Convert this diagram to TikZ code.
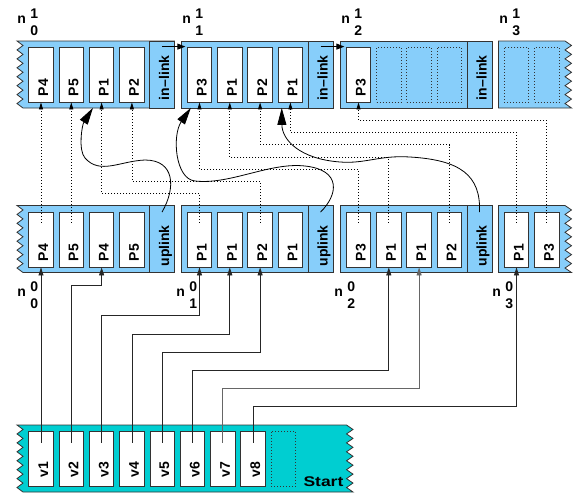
\documentclass[tikz,border=0pt]{standalone}
\usepackage{fontspec}
\setmainfont{Liberation Sans}
\usetikzlibrary{arrows.meta}
\definecolor{skyblue}{RGB}{135,206,250}
\definecolor{turq}{RGB}{0,206,209}
\newcommand{\nidx}[2]{n\hspace{4.5pt}\rlap{\raisebox{5pt}{#1}}\raisebox{-12.5pt}{#2}}

\begin{document}
\begin{tikzpicture}[x=1pt, y=-1pt, line width=0.8pt,
  every node/.style={font=\fontsize{14}{16}\selectfont\bfseries},
  blk/.style={draw=black!80, fill=skyblue},
  cell/.style={draw=black!80, fill=white, minimum width=24.5pt, minimum height=55pt, inner sep=0pt},
  ghost/.style={draw=black!80, dash pattern=on 1pt off 2pt, minimum width=24.5pt, minimum height=55pt, inner sep=0pt},
  panel/.style={draw=black!80, fill=skyblue, minimum width=25pt, minimum height=67pt, inner sep=0pt},
  ctext/.style={xshift=7pt, yshift=#1, rotate=90, anchor=base west, inner sep=0pt},
  ctext/.default=6pt,
  nlab/.style={anchor=base west, inner sep=0pt},
  feed/.style={draw=black!85, -{Triangle[length=8pt,width=5pt]}},
  mapto/.style={dash pattern=on 1pt off 2pt, -{Triangle[length=7pt,width=4pt]}},
  link/.style={shorten >=1.5pt, -{Triangle[length=8pt,width=6pt]}},
  climb/.style={-{Triangle[length=17pt,width=9pt]}}]

\useasboundingbox (0,0) rectangle (579,498);

% Ebene 1: Bloecke
\filldraw[blk] (23,108) -- (174.5,108) -- (174.5,41) -- (17,41)
  \foreach \i in {1,...,15} { -- ({17+6*mod(\i,2)},{41+\i*67/15}) } -- cycle;
\filldraw[blk] (181.5,41) rectangle (333,108);
\filldraw[blk] (340.5,41) rectangle (492,108);
\filldraw[blk] (498.5,108) -- (498.5,41) -- (565,41)
  \foreach \i in {1,...,15} { -- ({565+6.5*mod(\i,2)},{41+\i*67/15}) } -- cycle;

% Ebene 0: Bloecke
\filldraw[blk] (23,272.5) -- (174.5,272.5) -- (174.5,205.5) -- (17,205.5)
  \foreach \i in {1,...,15} { -- ({17+6*mod(\i,2)},{205.5+\i*67/15}) } -- cycle;
\filldraw[blk] (181.5,205.5) rectangle (333,272.5);
\filldraw[blk] (340.5,205.5) rectangle (492,272.5);
\filldraw[blk] (498.5,272.5) -- (498.5,205.5) -- (565,205.5)
  \foreach \i in {1,...,15} { -- ({565+6.5*mod(\i,2)},{205.5+\i*67/15}) } -- cycle;

% Startblock unten
\filldraw[blk, fill=turq] (17,425) -- (346.5,425)
  \foreach \i in {1,...,15} { -- ({346.5+6.5*mod(\i,2)},{425+\i*67/15}) } -- (23,492)
  \foreach \i in {1,...,15} { -- ({23-6*mod(\i,2)},{492-\i*67/15}) } -- cycle;

% Zellen Ebene 1
\node[cell, label={[ctext]south:P4}] (t00) at (41,74.5) {};
\node[cell, label={[ctext]south:P5}] (t01) at (71.3,74.5) {};
\node[cell, label={[ctext]south:P1}] (t02) at (101.6,74.5) {};
\node[cell, label={[ctext]south:P2}] (t03) at (131.9,74.5) {};
\node[panel, label={[ctext=8pt]south:in--link}] (in0) at (162,74.5) {};
\node[cell, label={[ctext]south:P3}] (t10) at (199.5,74.5) {};
\node[cell, label={[ctext]south:P1}] (t11) at (229.8,74.5) {};
\node[cell, label={[ctext]south:P2}] (t12) at (260.1,74.5) {};
\node[cell, label={[ctext]south:P1}] (t13) at (290.4,74.5) {};
\node[panel, label={[ctext=8pt]south:in--link}] (in1) at (320.5,74.5) {};
\node[cell, label={[ctext]south:P3}] (t20) at (358.5,74.5) {};
\node[ghost] (t21) at (388.8,74.5) {};
\node[ghost] (t22) at (419.1,74.5) {};
\node[ghost] (t23) at (449.4,74.5) {};
\node[panel, label={[ctext=8pt]south:in--link}] (in2) at (479.5,74.5) {};
\node[ghost] (t30) at (516.5,74.5) {};
\node[ghost] (t31) at (546.8,74.5) {};

% Zellen Ebene 0
\node[cell, label={[ctext]south:P4}] (m00) at (41,239.5) {};
\node[cell, label={[ctext]south:P5}] (m01) at (71.3,239.5) {};
\node[cell, label={[ctext]south:P4}] (m02) at (101.6,239.5) {};
\node[cell, label={[ctext]south:P5}] (m03) at (131.9,239.5) {};
\node[panel, label={[ctext=6pt]south:uplink}] (ul0) at (162,239) {};
\node[cell, label={[ctext]south:P1}] (m10) at (199.5,239.5) {};
\node[cell, label={[ctext]south:P1}] (m11) at (229.8,239.5) {};
\node[cell, label={[ctext]south:P2}] (m12) at (260.1,239.5) {};
\node[cell, label={[ctext]south:P1}] (m13) at (290.4,239.5) {};
\node[panel, label={[ctext=6pt]south:uplink}] (ul1) at (320.5,239) {};
\node[cell, label={[ctext]south:P3}] (m20) at (358.5,239.5) {};
\node[cell, label={[ctext]south:P1}] (m21) at (388.8,239.5) {};
\node[cell, label={[ctext]south:P1}] (m22) at (419.1,239.5) {};
\node[cell, label={[ctext]south:P2}] (m23) at (449.4,239.5) {};
\node[panel, label={[ctext=6pt]south:uplink}] (ul2) at (479.5,239) {};
\node[cell, label={[ctext]south:P1}] (m30) at (516.5,239.5) {};
\node[cell, label={[ctext]south:P3}] (m31) at (546.8,239.5) {};

% Startzellen
\node[cell, label={[ctext=9pt]south:v1}] (v1) at (41,458.5) {};
\node[cell, label={[ctext=9pt]south:v2}] (v2) at (71.3,458.5) {};
\node[cell, label={[ctext=9pt]south:v3}] (v3) at (101.6,458.5) {};
\node[cell, label={[ctext=9pt]south:v4}] (v4) at (131.9,458.5) {};
\node[cell, label={[ctext=9pt]south:v5}] (v5) at (162.2,458.5) {};
\node[cell, label={[ctext=9pt]south:v6}] (v6) at (192.5,458.5) {};
\node[cell, label={[ctext=9pt]south:v7}] (v7) at (222.8,458.5) {};
\node[cell, label={[ctext=9pt]south:v8}] (v8) at (253.1,458.5) {};
\node[ghost] (v9) at (283.4,458.5) {};
\node[nlab, xscale=1.25] (start) at (303,486.5) {Start};

% Beschriftungen n
\node[nlab] (k10) at (17,23.3) {\nidx{1}{0}};
\node[nlab] (k11) at (182,23.3) {\nidx{1}{1}};
\node[nlab] (k12) at (341,23.3) {\nidx{1}{2}};
\node[nlab] (k13) at (499,23.3) {\nidx{1}{3}};
\node[nlab] (k00) at (17,296) {\nidx{0}{0}};
\node[nlab] (k01) at (176,296) {\nidx{0}{1}};
\node[nlab] (k02) at (334,296) {\nidx{0}{2}};
\node[nlab] (k03) at (492,296) {\nidx{0}{3}};

% Startknoten -> Ebene 0
\draw[feed] ([yshift=-12pt]v1.north) -- (m00.south);
\draw[feed] ([yshift=-12pt]v2.north) |- (m02.south |- 0,285) -- (m02.south);
\draw[feed] ([yshift=-12pt]v3.north) |- (m10.south |- 0,315.5) -- (m10.south);
\draw[feed] ([yshift=-12pt]v4.north) |- (m11.south |- 0,334) -- (m11.south);
\draw[feed] ([yshift=-12pt]v5.north) |- (m12.south |- 0,352) -- (m12.south);
\draw[feed] ([yshift=-12pt]v6.north) |- (m21.south |- 0,370) -- (m21.south);
\draw[feed, draw=black!60] ([yshift=-12pt]v7.north) |- (m22.south |- 0,388) -- (m22.south);
\draw[feed] ([yshift=-12pt]v8.north) |- (m30.south |- 0,406.5) -- (m30.south);

% Ebene 0 -> Ebene 1 (gepunktet)
\draw[mapto] ([yshift=-11pt]m00.north) -- (t00.south);
\draw[mapto] ([yshift=-11pt]m01.north) -- (t01.south);
\draw[mapto] ([yshift=-11pt]m10.north) |- (t02.south |- 0,193) -- (t02.south);
\draw[mapto] ([yshift=-11pt]m12.north) |- (t03.south |- 0,181) -- (t03.south);
\draw[mapto] ([yshift=-11pt]m20.north) |- (t10.south |- 0,169) -- (t10.south);
\draw[mapto] ([yshift=-11pt]m21.north) |- (t11.south |- 0,157) -- (t11.south);
\draw[mapto] ([yshift=-11pt]m23.north) |- (t12.south |- 0,144.5) -- (t12.south);
\draw[mapto] ([yshift=-11pt]m30.north) |- (t13.south |- 0,132) -- (t13.south);
\draw[mapto] ([yshift=-11pt]m31.north) |- (t20.south |- 0,120) -- (t20.south);

% in-links
\draw[link] (in0 |- t10.north west) -- (t10.north west);
\draw[link] (in1 |- t20.north west) -- (t20.north west);

% uplinks
\draw[climb] ([yshift=-7pt]ul0.north) .. controls (176,188) and (175,160) .. (145,160)
  .. controls (120,161) and (100,175) .. (85,158)
  .. controls (78,150) and (82,125) .. ([xshift=4pt,yshift=-5.5pt]t02.south west);
\draw[climb] ([yshift=-7pt]ul1.north) .. controls (338,195) and (342,170) .. (305,166)
  .. controls (270,162) and (230,185) .. (195,181)
  .. controls (175,179) and (172,135) .. ([xshift=4pt,yshift=-5.5pt]t10.south west);
\draw[climb] ([yshift=-7pt]ul2.north) .. controls (481,175) and (460,160) .. (410,157)
  .. controls (380,155) and (365,164) .. (340,162)
  .. controls (300,159) and (282,140) .. ([xshift=4pt,yshift=-5.5pt]t13.south west);

\end{tikzpicture}
\end{document}
